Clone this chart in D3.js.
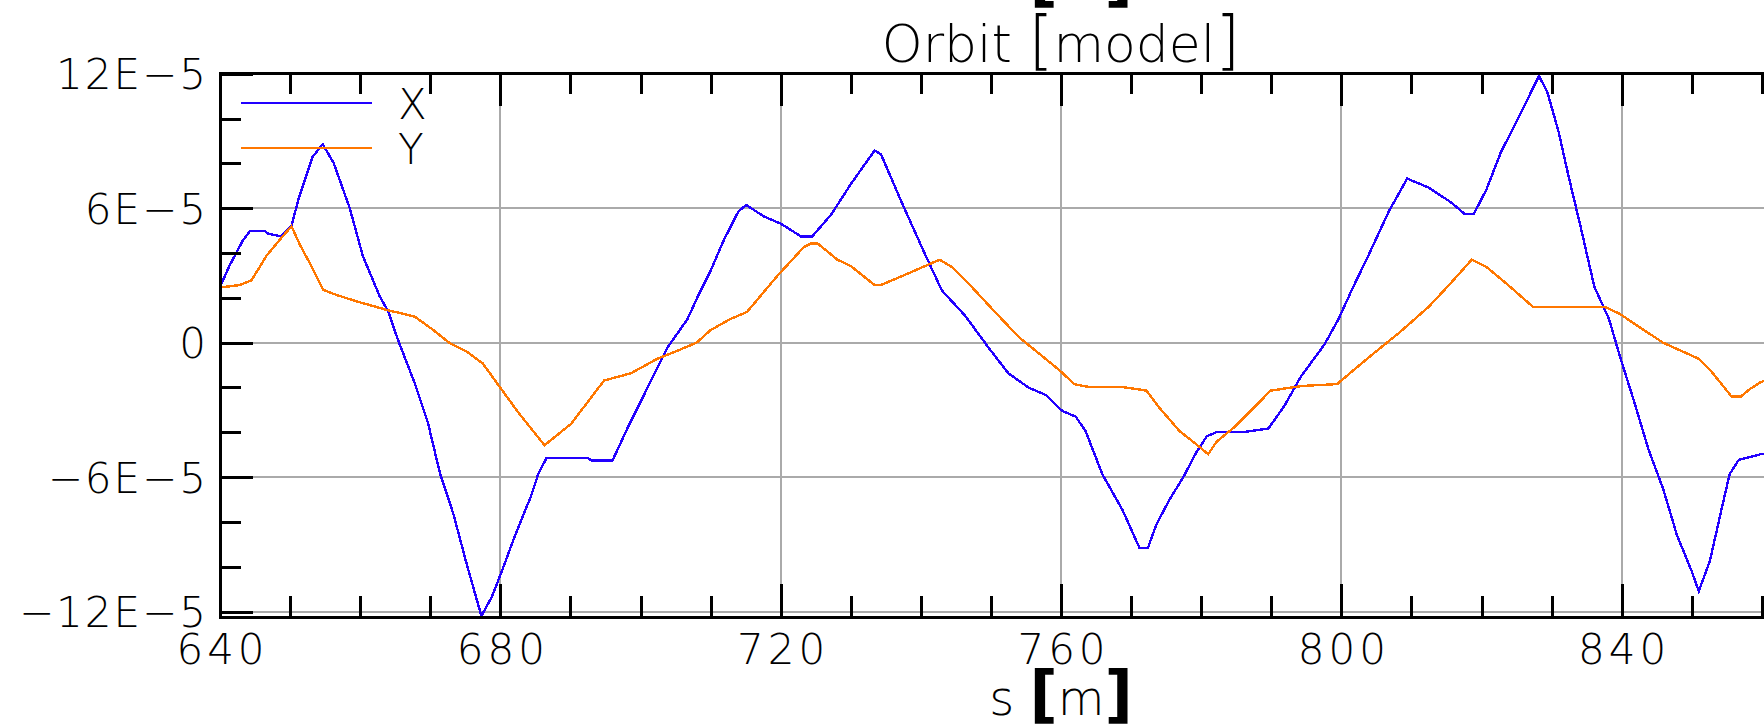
<!DOCTYPE html>
<html>
<head>
<meta charset="utf-8">
<script src="https://cdn.jsdelivr.net/npm/d3@7"></script>
<style>
  html, body { margin: 0; padding: 0; background: #fff; overflow: hidden; }
  svg text { font-family: "DejaVu Sans", "Liberation Sans", sans-serif; font-weight: 200; fill: #000; }
</style>
</head>
<body>
<svg id="chart" width="1764" height="725"></svg>
<script>
// Closed orbit along the ring, s in metres, orbit in units of 1E-5 m
const sX = [640.0, 641.4, 643.3, 644.3, 646.4, 646.9, 648.7, 650.2, 651.3, 653.2,
  654.65, 656.2, 658.5, 660.4, 662.8, 664.0, 665.4, 667.8, 669.7, 671.4,
  673.3, 675.2, 677.3, 678.8, 680.2, 682.1,
  684.4, 685.4, 686.6, 692.5, 693.0, 696.0, 698.2, 700.5, 703.8, 706.7,
  708.1, 709.9, 711.9, 714.0, 715.1, 717.6, 720.0, 722.9, 724.5, 727.2,
  730.0, 733.4, 734.3, 737.2, 740.6, 743.0, 746.3, 749.7, 752.5, 755.4,
  757.8, 760.2, 762.1, 763.5, 765.9, 768.8, 771.2, 772.4, 773.6, 775.5,
  777.4, 779.3, 780.8, 782.2, 786.0, 789.6, 791.9, 794.2, 797.6, 799.6,
  801.7, 803.7, 806.8, 809.4, 812.5, 815.6, 817.6, 818.9, 820.7, 822.8,
  824.8, 828.2, 829.4, 831.0, 832.5, 834.1, 836.1, 838.2, 839.7, 841.8,
  843.8, 845.9, 847.9, 850.0, 851.0, 852.6, 854.1, 855.4, 856.7, 859.8, 862.0];
const orbitX = [2.49, 3.46, 4.58, 4.98, 4.98, 4.86, 4.74, 5.22, 6.51, 8.28,
  8.85, 8.03, 6.01, 3.85, 2.06, 1.39, 0.12, -1.82, -3.61, -5.85,
  -7.64, -9.88, -12.19, -11.33, -10.21, -8.60,
  -6.83, -5.87, -5.14, -5.14, -5.26, -5.26, -3.78, -2.33, -0.24, 1.05,
  2.01, 3.14, 4.58, 5.87, 6.14, 5.63, 5.31, 4.74, 4.74, 5.71,
  7.07, 8.57, 8.41, 6.31, 3.94, 2.33, 1.21, -0.24, -1.37, -2.01,
  -2.33, -3.05, -3.30, -3.94, -5.87, -7.48, -9.16, -9.16, -8.12, -6.99,
  -6.03, -4.90, -4.18, -3.99, -3.99, -3.83, -2.81, -1.53, -0.08, 1.05,
  2.49, 3.78, 5.87, 7.32, 6.91, 6.27, 5.74, 5.74, 6.83, 8.52,
  9.73, 11.90, 11.17, 9.41, 7.32, 5.23, 2.49, 1.05, -0.56, -2.65,
  -4.74, -6.51, -8.60, -10.2, -11.09, -9.73, -7.64, -5.87, -5.23, -4.98, -4.9];

const sY = [640.0, 642.8, 644.5, 646.6, 648.5, 650.2, 651.4, 652.8, 654.7, 656.6,
  659.5, 663.8, 667.8, 670.4, 672.8, 675.2, 677.5, 679.9, 682.6, 686.3, 690.1,
  694.8, 698.6, 702.4, 706.2, 708.0, 710.0, 712.8, 715.2, 719.5, 723.3,
  724.3, 725.3, 728.1, 730.0, 733.4, 734.3, 737.7, 741.5, 742.7, 744.4,
  746.3, 750.1, 754.0, 755.9, 759.7, 761.9, 764.0, 768.8, 772.2, 774.0,
  776.9, 779.8, 781.0, 782.2, 784.7, 787.3, 789.9, 794.5, 799.4, 801.2,
  804.3, 808.4, 812.5, 815.6, 818.6, 820.7, 823.8, 827.4, 837.7, 839.7,
  842.8, 845.9, 851.0, 852.6, 855.7, 857.0, 858.2, 859.8, 862.0];
const orbitY = [2.46, 2.57, 2.78, 3.86, 4.58, 5.19, 4.37, 3.55, 2.36, 2.13,
  1.84, 1.46, 1.16, 0.57, -0.03, -0.40, -0.93, -1.97, -3.13, -4.58, -3.62,
  -1.69, -1.37, -0.72, -0.24, 0.00, 0.56, 1.05, 1.37, 2.97, 4.26,
  4.42, 4.42, 3.70, 3.42, 2.57, 2.57, 3.02, 3.54, 3.70, 3.38,
  2.81, 1.53, 0.24, -0.24, -1.21, -1.85, -1.98, -1.98, -2.14, -2.89,
  -3.94, -4.66, -4.98, -4.42, -3.78, -2.97, -2.14, -1.93, -1.85, -1.37,
  -0.56, 0.48, 1.61, 2.65, 3.70, 3.38, 2.57, 1.58, 1.58, 1.29,
  0.64, 0.00, -0.72, -1.21, -2.41, -2.41, -2.09, -1.77, -1.5];

const seriesNames = ["X", "Y"];
const seriesColors = ["#2200ff", "#ff7700"];

const xMajorTicks = [640, 680, 720, 760, 800, 840];
const xMinorTicks = [650, 660, 670, 690, 700, 710, 730, 740, 750, 770, 780, 790, 810, 820, 830, 850, 860];
const yMajorTicks = [12, 6, 0, -6, -12];
const yMinorTicks = [10, 8, 4, 2, -2, -4, -8, -10];
const yTickLabels = ["12E\u22125", "6E\u22125", "0", "\u22126E\u22125", "\u221212E\u22125"];

const titleParts = ["Orbit ", "[", "model", "]"];
const xLabelParts = ["s ", "[", "m", "]"];

// ---- layout ----
const plot = { left: 220, right: 1902, top: 73, bottom: 617 };
const svg = d3.select("#chart");

const x = d3.scaleLinear().domain([640, 880]).range([plot.left, plot.right]);
const y = d3.scaleLinear().domain([-12.24, 12.03]).range([plot.bottom, plot.top]);

// grid lines at the major ticks
const grid = svg.append("g").attr("shape-rendering", "crispEdges")
  .attr("stroke", "#aaaaaa").attr("stroke-width", 2);
grid.selectAll("line.gx").data(xMajorTicks.slice(1)).join("line")
  .attr("x1", d => x(d)).attr("x2", d => x(d))
  .attr("y1", plot.top).attr("y2", plot.bottom);
grid.selectAll("line.gy").data(yMajorTicks).join("line")
  .attr("x1", plot.left).attr("x2", plot.right)
  .attr("y1", d => y(d)).attr("y2", d => y(d));

// orbit curves, clipped to the frame
svg.append("clipPath").attr("id", "plotClip").append("rect")
  .attr("x", plot.left).attr("y", plot.top)
  .attr("width", plot.right - plot.left).attr("height", plot.bottom - plot.top);

const line = d3.line().x(d => x(d[0])).y(d => y(d[1]));
const curves = [d3.zip(sX, orbitX), d3.zip(sY, orbitY)];
svg.append("g").attr("clip-path", "url(#plotClip)")
  .selectAll("path").data(curves).join("path")
  .attr("d", line)
  .attr("fill", "none")
  .attr("stroke", (d, i) => seriesColors[i])
  .attr("stroke-width", 2.4)
  .attr("shape-rendering", "crispEdges");

// axes: ticks point inwards on every side
function styleAxis(g, width) {
  g.select(".domain").remove();
  g.selectAll(".tick line").attr("stroke", "#000").attr("stroke-width", width);
  g.attr("shape-rendering", "crispEdges");
}

svg.append("g").attr("transform", `translate(0,${plot.bottom})`)
  .call(d3.axisBottom(x).tickValues(xMajorTicks).tickSize(-33).tickSizeOuter(0).tickFormat(d3.format("d")))
  .call(g => styleAxis(g, 3))
  .call(g => g.selectAll("text").attr("y", 47).attr("dy", null).attr("dx", 2)
    .style("font-size", "42px").style("letter-spacing", "4px").style("font-family", null));

svg.append("g").attr("transform", `translate(0,${plot.bottom})`)
  .call(d3.axisBottom(x).tickValues(xMinorTicks).tickSize(-21).tickSizeOuter(0).tickFormat(""))
  .call(g => styleAxis(g, 3));

svg.append("g").attr("transform", `translate(0,${plot.top})`)
  .call(d3.axisTop(x).tickValues(xMajorTicks).tickSize(-33).tickSizeOuter(0).tickFormat(""))
  .call(g => styleAxis(g, 3));

svg.append("g").attr("transform", `translate(0,${plot.top})`)
  .call(d3.axisTop(x).tickValues(xMinorTicks).tickSize(-21).tickSizeOuter(0).tickFormat(""))
  .call(g => styleAxis(g, 3));

svg.append("g").attr("transform", `translate(${plot.left},0)`)
  .call(d3.axisLeft(y).tickValues(yMajorTicks).tickSize(-33).tickSizeOuter(0).tickPadding(12)
    .tickFormat((d, i) => yTickLabels[i]))
  .call(g => styleAxis(g, 3))
  .call(g => g.selectAll("text").attr("dy", "0.36em")
    .style("font-size", "42px").style("letter-spacing", "2px").style("font-family", null));

svg.append("g").attr("transform", `translate(${plot.left},0)`)
  .call(d3.axisLeft(y).tickValues(yMinorTicks).tickSize(-21).tickSizeOuter(0).tickFormat(""))
  .call(g => styleAxis(g, 3));

// frame
svg.append("rect")
  .attr("x", plot.left).attr("y", plot.top)
  .attr("width", plot.right - plot.left).attr("height", plot.bottom - plot.top)
  .attr("fill", "none").attr("stroke", "#000").attr("stroke-width", 3)
  .attr("shape-rendering", "crispEdges");

// legend
const legend = svg.append("g");
seriesNames.forEach((name, i) => {
  const ly = 103 + i * 45;
  legend.append("line")
    .attr("x1", 241).attr("x2", 372).attr("y1", ly).attr("y2", ly)
    .attr("stroke", seriesColors[i]).attr("stroke-width", 2.4)
    .attr("shape-rendering", "crispEdges");
  legend.append("text")
    .attr("x", 398).attr("y", ly + 16)
    .style("font-size", "42px")
    .text(name);
});

// title and axis label
const cx = (plot.left + plot.right) / 2;
function bracketText(parts, yPos, textSize, bracketSize, bracketWeight) {
  const t = svg.append("text").attr("x", cx).attr("y", yPos).attr("text-anchor", "middle");
  parts.forEach(p => {
    const isBracket = p === "[" || p === "]";
    t.append("tspan")
      .style("font-size", (isBracket ? bracketSize : textSize) + "px")
      .style("font-weight", isBracket ? bracketWeight : 200)
      .text(p);
  });
  return t;
}
bracketText(titleParts, 62, 52, 64, 200);
bracketText(xLabelParts, 715, 48, 62, 700);
// axis label of the panel above, cut by the top edge
bracketText(xLabelParts, -1, 48, 62, 700);
</script>
</body>
</html>
